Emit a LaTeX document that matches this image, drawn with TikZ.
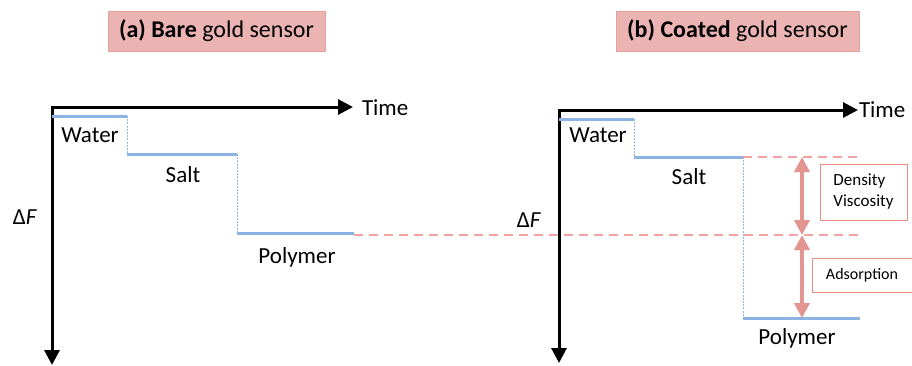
\documentclass[tikz,border=0pt]{standalone}
\usepackage{fontspec}
\setmainfont{Carlito}
\usetikzlibrary{positioning,arrows.meta}

\definecolor{titlepink}{RGB}{235,180,178}
\definecolor{titleedge}{RGB}{230,160,156}
\definecolor{stepblue}{RGB}{141,179,226}
\definecolor{guidepink}{RGB}{242,163,160}
\definecolor{arrowpink}{RGB}{227,150,145}
\definecolor{boxedge}{RGB}{240,140,136}

\begin{document}
\begin{tikzpicture}[
    x=1pt,y=-1pt,
    every node/.style={
        inner sep=0pt,
        outer sep=0pt,
        font=\fontsize{23}{27}\selectfont,
    },
    titlebox/.style={
        fill=titlepink,
        draw=titleedge,
        line width=.8pt,
        minimum width=#1,
        minimum height=40pt,
        font=\fontsize{24}{28}\selectfont,
    },
    axisarrow/.style={
        line width=3pt,
        line join=miter,
        {Triangle[length=15pt,width=15pt]}-{Triangle[length=15pt,width=15pt]},
    },
    plateau/.style={
        draw=stepblue,
        line width=3pt,
    },
    jump/.style={
        draw=stepblue,
        line width=1pt,
        dash pattern=on 2pt off 1.2pt,
    },
    guide/.style={
        draw=guidepink,
        line width=1.5pt,
        dash pattern=on 9pt off 6pt,
    },
    shift arrow/.style={
        draw=arrowpink,
        line width=4pt,
        {Triangle[length=15pt,width=15pt]}-{Triangle[length=15pt,width=15pt]},
    },
    effect/.style n args={3}{
        draw=boxedge,
        line width=1pt,
        fill=white,
        align=left,
        font=\fontsize{#3}{21}\selectfont,
        minimum width=#1,
        minimum height=#2,
    },
]
    \useasboundingbox (0,0) rectangle (912,365);

    % ~~~ titles ~~~~~~~~~~~~~~~~~~~~~~~~~~~~~~~~~~~~~~~~~~~~~~~~~~
    \node[titlebox=217pt] (tita) at (216.5,31) {\textbf{(a) Bare} gold sensor};
    \node[titlebox=243pt] (titb) at (737.5,31) {\textbf{(b) Coated} gold sensor};

    % ~~~ panel (a) ~~~~~~~~~~~~~~~~~~~~~~~~~~~~~~~~~~~~~~~~~~~~~~~
    \coordinate (ao) at (52,107);
    \coordinate (at) at (353,107);
    \coordinate (af) at (52,365);
    \draw[axisarrow] (at) -- (ao) -- (af);
    \node[anchor=west] (timea) at (362,108) {Time};
    \node (dfa) at (25,217) {Δ\textit{F}};

    \foreach \n/\x/\y in {a1/52/116, a2/127/116, a3/127/154,
                          a4/237/154, a5/237/233, a6/354/233}{
        \coordinate (\n) at (\x,\y);
    }
    \draw[plateau] (a1) -- (a2) (a3) -- (a4) (a5) -- (a6);
    \draw[jump] (a2) -- (a3) (a4) -- (a5);
    \node (watera) at (90,135) {Water};
    \node (salta) at (183,175) {Salt};
    \node (polya) at (297,257) {Polymer};

    % ~~~ panel (b) ~~~~~~~~~~~~~~~~~~~~~~~~~~~~~~~~~~~~~~~~~~~~~~~
    \coordinate (bo) at (559,110);
    \coordinate (bt) at (858,110);
    \coordinate (bf) at (559,363);
    \draw[axisarrow] (bt) -- (bo) -- (bf);
    \node[anchor=west] (timeb) at (859,110) {Time};
    \node (dfb) at (529,220) {Δ\textit{F}};

    \foreach \n/\x/\y in {b1/559/119, b2/634/119, b3/634/157,
                          b4/743/157, b5/743/318, b6/860/318}{
        \coordinate (\n) at (\x,\y);
    }
    \draw[plateau] (b1) -- (b2) (b3) -- (b4) (b5) -- (b6);
    \draw[jump] (b2) -- (b3) (b4) -- (b5);
    \node (waterb) at (598,135) {Water};
    \node (saltb) at (689,177) {Salt};
    \node (polyb) at (797,338) {Polymer};

    % ~~~ guide lines and shifts ~~~~~~~~~~~~~~~~~~~~~~~~~~~~~~~~~~
    \coordinate (ga) at (354,235);
    \coordinate (gb) at (860,235);
    \coordinate (gc) at (860,157);
    \draw[guide] (ga) -- (gb);
    \draw[guide] (b4) -- (gc);
    \coordinate (s1) at (802,157);
    \coordinate (s2) at (802,235);
    \coordinate (s3) at (802,318);
    \draw[shift arrow] (s1) -- (s2);
    \draw[shift arrow] (s2) -- (s3);
    \node[effect={87pt}{56pt}{17}] (dens) at (863.5,192) {Density\\Viscosity};
    \node[effect={100pt}{34pt}{16}] (adso) at (862,275) {Adsorption};
\end{tikzpicture}
\end{document}
